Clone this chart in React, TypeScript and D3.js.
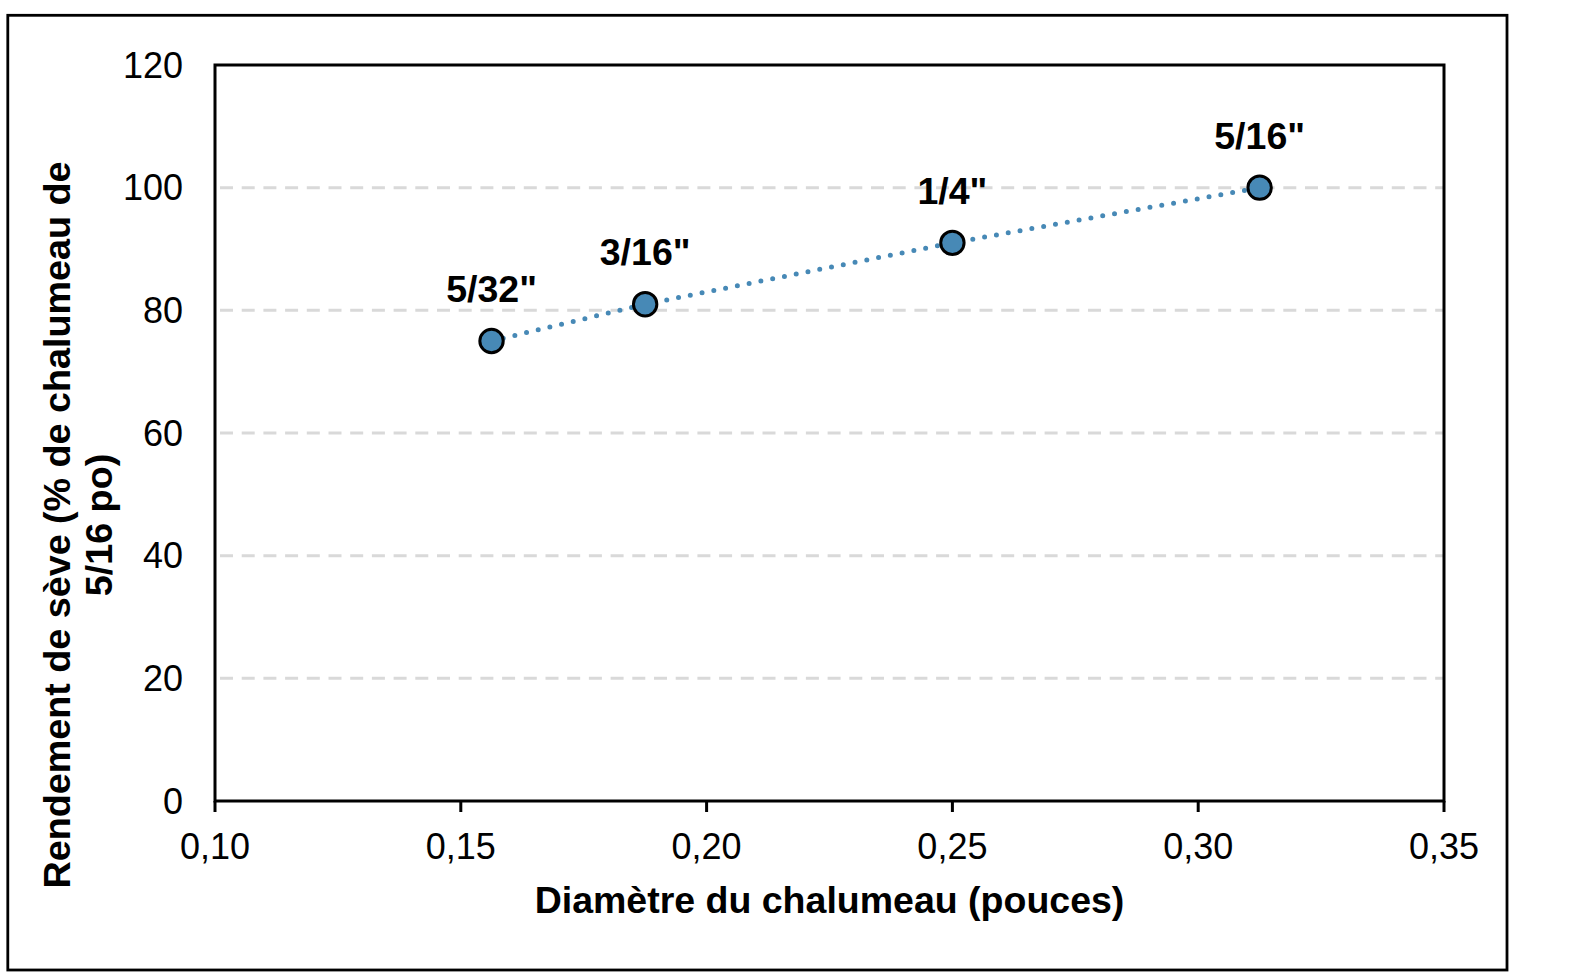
import React from "react";
import * as d3 from "d3";

const sizes = ["5/32\"", "3/16\"", "1/4\"", "5/16\""];
const diameters = [0.15625, 0.1875, 0.25, 0.3125];
const yields = [75, 81, 91, 100];
const xTicks = [0.1, 0.15, 0.2, 0.25, 0.3, 0.35];
const yTicks = [0, 20, 40, 60, 80, 100, 120];
const gridValues = [20, 40, 60, 80, 100];

const W = 1575;
const H = 977;
const plot = { left: 215, right: 1444, top: 65, bottom: 801 };
const blue = "#4789b6";
const font = "Liberation Sans, Arial, sans-serif";

export default function App() {
  const x = d3.scaleLinear().domain([0.1, 0.35]).range([plot.left, plot.right]);
  const y = d3.scaleLinear().domain([0, 120]).range([plot.bottom, plot.top]);
  const pts = diameters.map((d, i) => ({ x: x(d), y: y(yields[i]), label: sizes[i] }));
  const line = d3
    .line<{ x: number; y: number }>()
    .x((d) => d.x)
    .y((d) => d.y)(pts) as string;
  const fmt = (v: number) => v.toFixed(2).replace(".", ",");
  const cx = (plot.left + plot.right) / 2;

  return (
    <svg
      width={W}
      height={H}
      style={{ position: "absolute", left: 0, top: 0, background: "#fff" }}
      fontFamily={font}
    >
      <rect x={0} y={0} width={W} height={H} fill="#fff" />
      <rect x={7.8} y={15.3} width={1507 - 7.8} height={970 - 15.3} fill="none" stroke="#000" strokeWidth={2.8} />

      {gridValues.map((g) => (
        <line
          key={g}
          x1={plot.left}
          x2={plot.right}
          y1={y(g)}
          y2={y(g)}
          stroke="#d9d9d9"
          strokeWidth={3}
          strokeDasharray="13 8.7"
          strokeDashoffset={-5}
        />
      ))}

      <rect
        x={plot.left}
        y={plot.top}
        width={plot.right - plot.left}
        height={plot.bottom - plot.top}
        fill="none"
        stroke="#000"
        strokeWidth={3}
      />

      {xTicks.map((t) => (
        <g key={t}>
          <line x1={x(t)} x2={x(t)} y1={plot.bottom} y2={plot.bottom + 11} stroke="#000" strokeWidth={3} />
          <text x={x(t)} y={858.5} textAnchor="middle" fontSize={36} fill="#000">
            {fmt(t)}
          </text>
        </g>
      ))}

      {yTicks.map((t) => (
        <text key={t} x={183} y={y(t) + 12.5} textAnchor="end" fontSize={36} fill="#000">
          {t}
        </text>
      ))}

      <path
        d={line}
        fill="none"
        stroke={blue}
        strokeWidth={5}
        strokeDasharray="0 12"
        strokeLinecap="round"
      />

      {pts.map((p, i) => (
        <g key={i}>
          <circle cx={p.x} cy={p.y} r={11.7} fill={blue} stroke="#000" strokeWidth={3} />
          <text x={p.x} y={p.y - 39} textAnchor="middle" fontSize={37.5} fontWeight="bold" fill="#000">
            {p.label}
          </text>
        </g>
      ))}

      <text x={cx} y={913} textAnchor="middle" fontSize={37.5} fontWeight="bold" fill="#000">
        Diamètre du chalumeau (pouces)
      </text>

      <g transform="translate(0,525) rotate(-90)">
        <text x={0} y={70} textAnchor="middle" fontSize={37.7} fontWeight="bold" fill="#000">
          Rendement de sève (% de chalumeau de
        </text>
        <text x={0} y={111.5} textAnchor="middle" fontSize={37.7} fontWeight="bold" fill="#000">
          5/16 po)
        </text>
      </g>
    </svg>
  );
}
